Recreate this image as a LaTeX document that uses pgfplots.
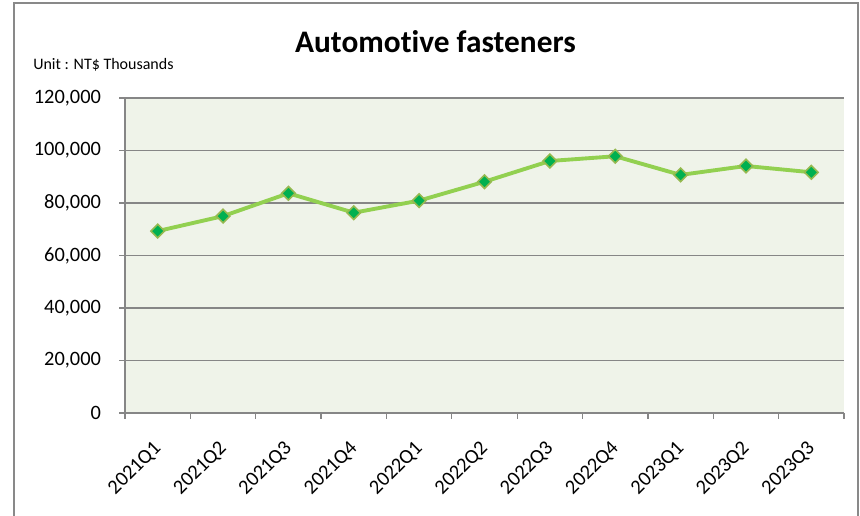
\documentclass[border=0pt]{standalone}
\usepackage{fontspec}
\setmainfont{Carlito}[Ligatures=NoCommon]
\usepackage{pgfplots}
\pgfplotsset{compat=1.18}

\definecolor{framec}{RGB}{137,137,137}
\definecolor{plotbg}{RGB}{239,243,233}
\definecolor{gridc}{RGB}{134,134,134}
\definecolor{linec}{RGB}{146,208,80}
\definecolor{markfill}{RGB}{0,176,80}
\definecolor{markedge}{RGB}{150,185,80}

\begin{document}
\begin{tikzpicture}
% page area and chart frame
\useasboundingbox (0pt,0pt) rectangle (645pt,387pt);
\fill[white] (0pt,0pt) rectangle (645pt,387pt);
\draw[framec, line width=1.1pt] (10.5pt,-3pt) -- (10.5pt,384.75pt) -- (643.5pt,384.75pt) -- (643.5pt,-3pt);

% titles
\node[anchor=base, font=\fontsize{23.5}{28}\selectfont\bfseries] at (326.6pt,347.25pt) {Automotive fasteners};
\node[anchor=base west, inner sep=0pt, font=\fontsize{12}{14}\selectfont] at (24.75pt,334.5pt) {Unit : NT\$ Thousands};

\begin{axis}[
  at={(93.75pt,77.25pt)}, anchor=south west,
  scale only axis, width=539.25pt, height=236.25pt,
  xmin=-0.5, xmax=10.5, ymin=0, ymax=120000,
  axis lines*=left,
  axis line style={gridc, line width=1.2pt},
  axis background/.style={fill=plotbg},
  ymajorgrids, grid style={gridc, line width=1.4pt},
  scaled y ticks=false,
  ytick={0,20000,40000,60000,80000,100000,120000},
  yticklabels={0,{20,000},{40,000},{60,000},{80,000},{100,000},{120,000}},
  tick align=outside,
  tick style={gridc, line width=1pt},
  major tick length=4.5pt,
  minor tick length=4.5pt,
  xtick={0,...,10},
  x tick style={draw=none},
  minor xtick={-0.5,0.5,...,10.5},
  minor x tick style={draw=gridc, line width=1pt},
  xticklabels={2021Q1,2021Q2,2021Q3,2021Q4,2022Q1,2022Q2,2022Q3,2022Q4,2023Q1,2023Q2,2023Q3},
  tick label style={font=\fontsize{15.3}{18}\selectfont},
  xticklabel style={xshift=-4pt, yshift=-13.8pt, rotate=45, anchor=north east, inner sep=1pt},
  yticklabel style={anchor=east, xshift=-10pt},
]
\addplot[linec, line width=2.9pt, mark=square*, mark size=3.6pt,
  mark options={rotate=45, fill=markfill, draw=markedge, line width=1.2pt}]
  coordinates {
  (0,69300) (1,75000) (2,83700) (3,76300) (4,80900) (5,88100)
  (6,96000) (7,97800) (8,90700) (9,94100) (10,91700)
  };
\end{axis}
\end{tikzpicture}
\end{document}
